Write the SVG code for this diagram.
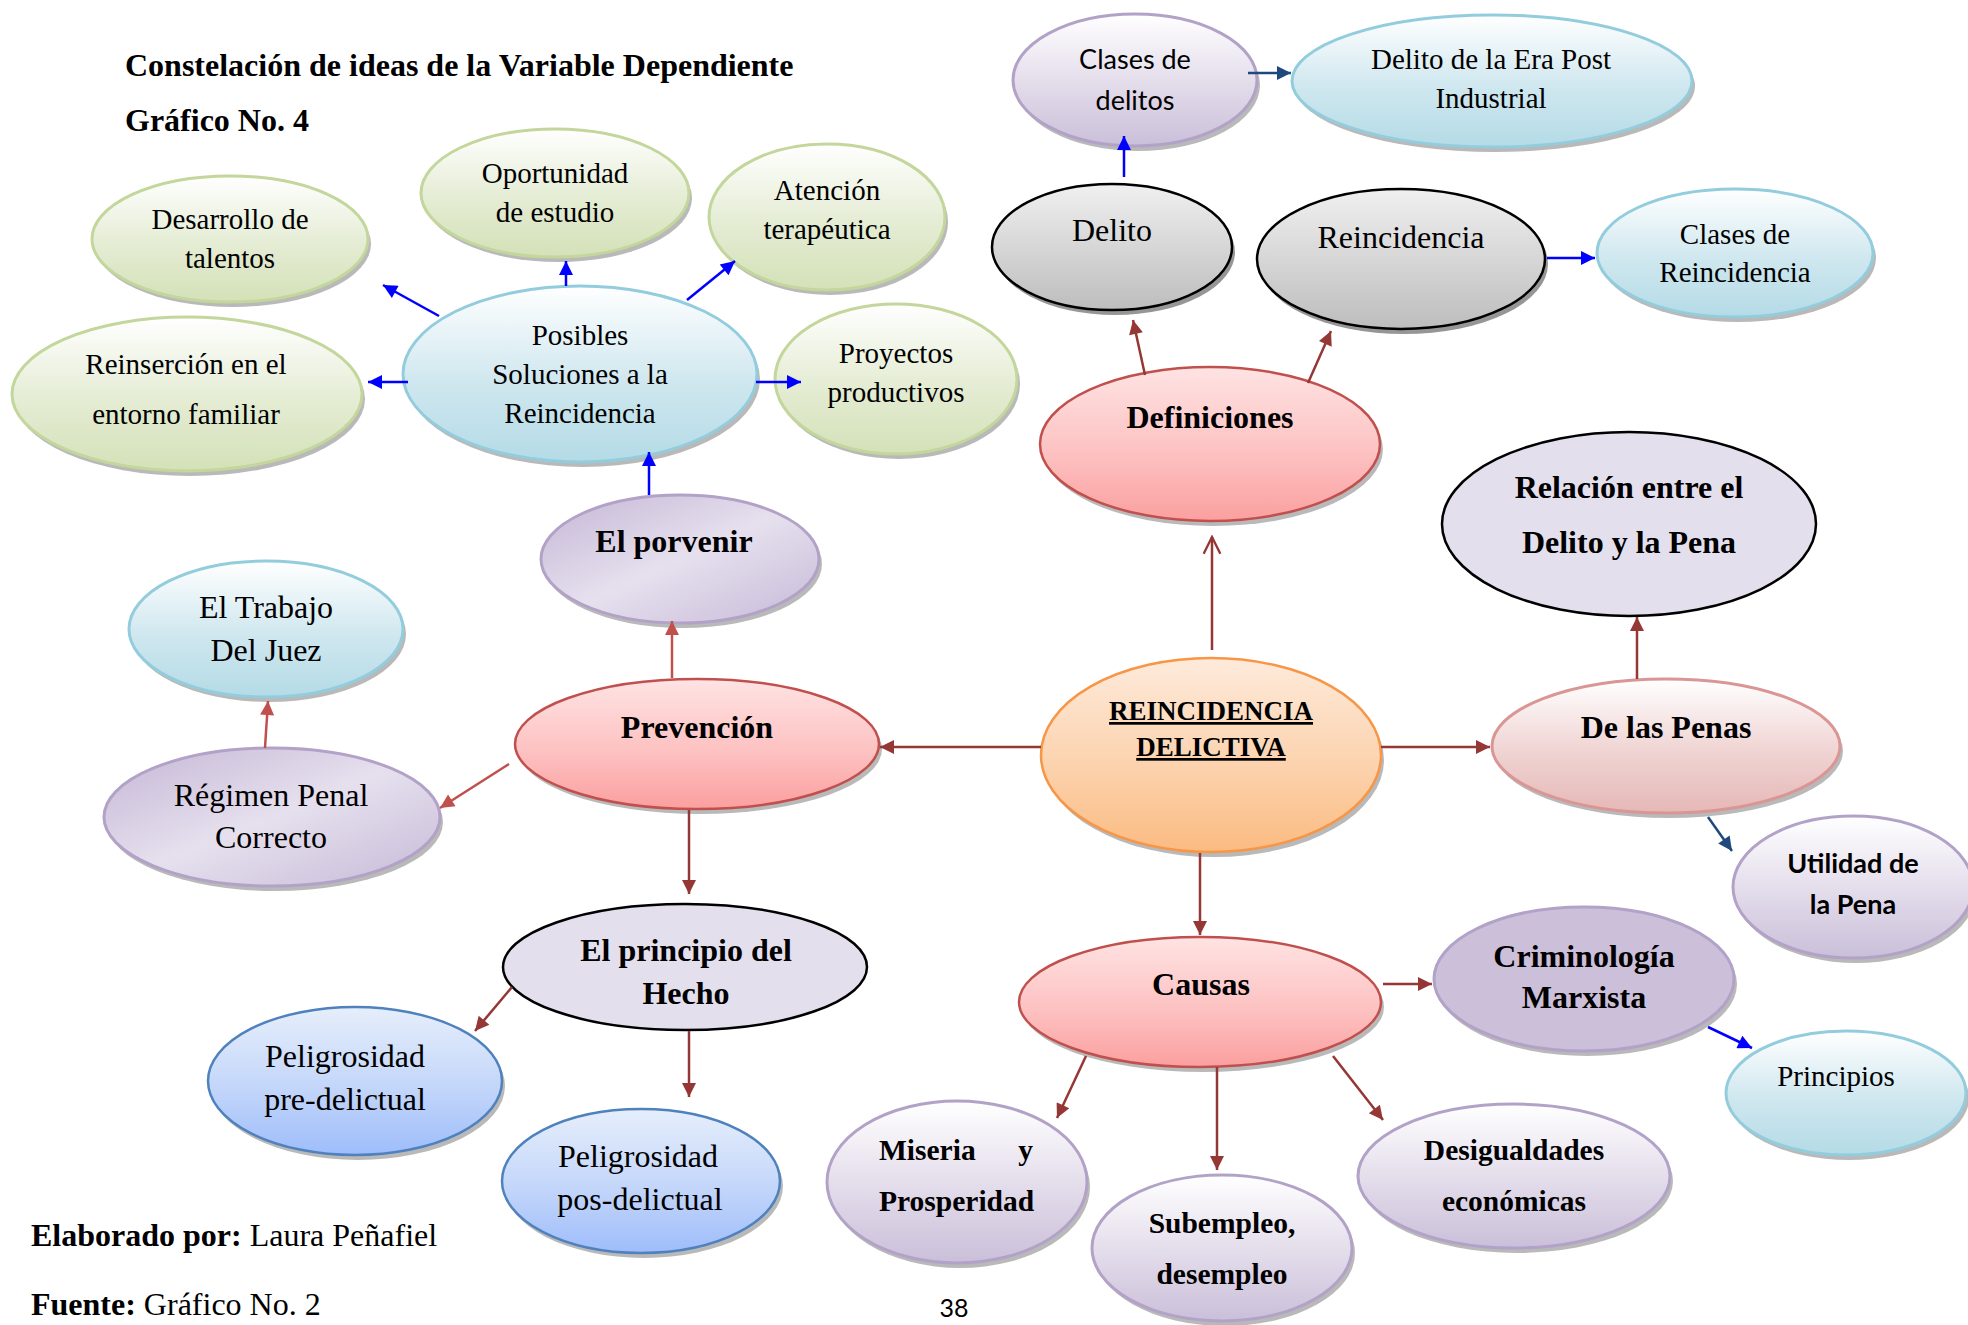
<svg xmlns="http://www.w3.org/2000/svg" width="1968" height="1325" viewBox="0 0 1968 1325">
<defs>
<linearGradient id="gGreen" x1="0" y1="0" x2="0" y2="1"><stop offset="0" stop-color="#ffffff"/><stop offset="0.55" stop-color="#e4ecd3"/><stop offset="1" stop-color="#d4e1b8"/></linearGradient>
<linearGradient id="gBlue" x1="0" y1="0" x2="0" y2="1"><stop offset="0" stop-color="#ffffff"/><stop offset="0.55" stop-color="#cfe7ef"/><stop offset="1" stop-color="#b4dbe6"/></linearGradient>
<linearGradient id="gPurple" x1="0" y1="0" x2="0" y2="1"><stop offset="0" stop-color="#ffffff"/><stop offset="0.55" stop-color="#e2dbea"/><stop offset="1" stop-color="#cabfd9"/></linearGradient>
<linearGradient id="gPurple2" x1="0" y1="0" x2="1" y2="1"><stop offset="0" stop-color="#c4b6d5"/><stop offset="0.5" stop-color="#e6e0ee"/><stop offset="1" stop-color="#c6b9d7"/></linearGradient>
<linearGradient id="gRed" x1="0" y1="0" x2="0" y2="1"><stop offset="0" stop-color="#ffe3e3"/><stop offset="0.55" stop-color="#fdc2c2"/><stop offset="1" stop-color="#fb9f9f"/></linearGradient>
<linearGradient id="gPink" x1="0" y1="0" x2="0" y2="1"><stop offset="0" stop-color="#ffffff"/><stop offset="0.55" stop-color="#efd3d2"/><stop offset="1" stop-color="#e5b8b7"/></linearGradient>
<linearGradient id="gOrange" x1="0" y1="0" x2="0" y2="1"><stop offset="0" stop-color="#feeadb"/><stop offset="0.55" stop-color="#fcd3ae"/><stop offset="1" stop-color="#fbbb82"/></linearGradient>
<linearGradient id="gGray" x1="0" y1="0" x2="0" y2="1"><stop offset="0" stop-color="#f0f0f0"/><stop offset="0.55" stop-color="#d4d4d4"/><stop offset="1" stop-color="#bdbdbd"/></linearGradient>
<linearGradient id="gBlue2" x1="0" y1="0" x2="0" y2="1"><stop offset="0" stop-color="#e6eefb"/><stop offset="0.55" stop-color="#c3d6fa"/><stop offset="1" stop-color="#9ebdfb"/></linearGradient>
<marker id="aBlue" viewBox="0 0 10 10" refX="10" refY="5" markerUnits="userSpaceOnUse" markerWidth="16" markerHeight="14" orient="auto"><path d="M0,0 L10,5 L0,10 z" fill="#0000ff"/></marker>
<marker id="aNavy" viewBox="0 0 10 10" refX="10" refY="5" markerUnits="userSpaceOnUse" markerWidth="16" markerHeight="14" orient="auto"><path d="M0,0 L10,5 L0,10 z" fill="#1f497d"/></marker>
<marker id="aDark" viewBox="0 0 10 10" refX="10" refY="5" markerUnits="userSpaceOnUse" markerWidth="16" markerHeight="14" orient="auto"><path d="M0,0 L10,5 L0,10 z" fill="#953735"/></marker>
<marker id="aRed" viewBox="0 0 10 10" refX="10" refY="5" markerUnits="userSpaceOnUse" markerWidth="16" markerHeight="14" orient="auto"><path d="M0,0 L10,5 L0,10 z" fill="#c0504d"/></marker>
<marker id="aOpen" viewBox="0 0 12 12" refX="11" refY="6" markerUnits="userSpaceOnUse" markerWidth="20" markerHeight="20" orient="auto"><path d="M1,1 L11,6 L1,11" fill="none" stroke="#953735" stroke-width="1.4"/></marker>
</defs>
<style>
.sh{fill:#808080;opacity:.55}
.green{fill:url(#gGreen);stroke:#c3d69b;stroke-width:3}
.blue{fill:url(#gBlue);stroke:#93cddd;stroke-width:3}
.purple{fill:url(#gPurple);stroke:#b3a2c7;stroke-width:3}
.purple2{fill:url(#gPurple2);stroke:#b3a2c7;stroke-width:3}
.purpleS{fill:#cbbfd9;stroke:#b3a2c7;stroke-width:3}
.red{fill:url(#gRed);stroke:#c0504d;stroke-width:2.5}
.pink{fill:url(#gPink);stroke:#d99694;stroke-width:3}
.orange{fill:url(#gOrange);stroke:#f79646;stroke-width:2.5}
.gray{fill:url(#gGray);stroke:#000;stroke-width:2.5}
.lav{fill:#e4dfec;stroke:#000;stroke-width:2.5}
.blue2{fill:url(#gBlue2);stroke:#4f81bd;stroke-width:2.5}
text{fill:#000}
.t{font-family:"Liberation Serif","Times New Roman",serif;font-size:29px;text-anchor:middle}
.tl{font-family:"Liberation Serif","Times New Roman",serif;font-size:32px;text-anchor:middle}
.tb{font-family:"Liberation Serif","Times New Roman",serif;font-size:32px;font-weight:bold;text-anchor:middle}
.tbs{font-family:"Liberation Serif","Times New Roman",serif;font-size:29.5px;font-weight:bold}
.s{font-family:Lato,"Open Sans",sans-serif;font-size:27px;text-anchor:middle}
.sb{font-family:Lato,"Open Sans",sans-serif;font-size:27px;font-weight:bold;text-anchor:middle}
.head{font-family:"Liberation Serif","Times New Roman",serif;font-size:32px;font-weight:bold}
.foot{font-family:"Liberation Serif","Times New Roman",serif;font-size:32px}
.cb{stroke:#0000ff;stroke-width:2.5;fill:none;marker-end:url(#aBlue)}
.cn{stroke:#1f497d;stroke-width:2.5;fill:none;marker-end:url(#aNavy)}
.cd{stroke:#953735;stroke-width:2.5;fill:none;marker-end:url(#aDark)}
.cr{stroke:#c0504d;stroke-width:2.5;fill:none;marker-end:url(#aRed)}
.co{stroke:#953735;stroke-width:2.5;fill:none;marker-end:url(#aOpen)}
</style>
<rect width="1968" height="1325" fill="#ffffff"/>

<g id="title">
<text class="head" x="125" y="76">Constelación de ideas de la Variable Dependiente</text>
<text class="head" x="125" y="131">Gráfico No. 4</text>
</g>

<g id="n-desarrollo"><ellipse class="sh" cx="233" cy="244" rx="138" ry="63"/><ellipse class="green" cx="230" cy="239" rx="138" ry="63"/>
<text class="t" x="230" y="229">Desarrollo de</text><text class="t" x="230" y="268">talentos</text></g>

<g id="n-oportunidad"><ellipse class="sh" cx="558" cy="198" rx="134" ry="64"/><ellipse class="green" cx="555" cy="193" rx="134" ry="64"/>
<text class="t" x="555" y="183">Oportunidad</text><text class="t" x="555" y="222">de estudio</text></g>

<g id="n-atencion"><ellipse class="sh" cx="830" cy="222" rx="118" ry="73"/><ellipse class="green" cx="827" cy="217" rx="118" ry="73"/>
<text class="t" x="827" y="200">Atención</text><text class="t" x="827" y="239">terapéutica</text></g>

<g id="n-reinsercion"><ellipse class="sh" cx="190" cy="399" rx="175" ry="77"/><ellipse class="green" cx="187" cy="394" rx="175" ry="77"/>
<text class="t" x="186" y="374">Reinserción en el</text><text class="t" x="186" y="424">entorno familiar</text></g>

<g id="n-posibles"><ellipse class="sh" cx="583" cy="379" rx="177" ry="88"/><ellipse class="blue" cx="580" cy="374" rx="177" ry="88"/>
<text class="t" x="580" y="345">Posibles</text><text class="t" x="580" y="384">Soluciones a la</text><text class="t" x="580" y="423">Reincidencia</text></g>

<g id="n-proyectos"><ellipse class="sh" cx="899" cy="384" rx="121" ry="75"/><ellipse class="green" cx="896" cy="379" rx="121" ry="75"/>
<text class="t" x="896" y="363">Proyectos</text><text class="t" x="896" y="402">productivos</text></g>

<g id="n-clases-delitos"><ellipse class="sh" cx="1138" cy="85" rx="122" ry="66"/><ellipse class="purple" cx="1135" cy="80" rx="122" ry="66"/>
<text class="s" x="1135" y="69">Clases de</text><text class="s" x="1135" y="110">delitos</text></g>

<g id="n-era-post"><ellipse class="sh" cx="1495" cy="86" rx="200" ry="66"/><ellipse class="blue" cx="1492" cy="81" rx="200" ry="66"/>
<text class="t" x="1491" y="69">Delito de la Era Post</text><text class="t" x="1491" y="108">Industrial</text></g>

<g id="n-delito"><ellipse class="sh" cx="1115" cy="252" rx="120" ry="63" style="fill:#404040"/><ellipse class="gray" cx="1112" cy="247" rx="120" ry="63"/>
<text class="tl" x="1112" y="241">Delito</text></g>

<g id="n-reincidencia"><ellipse class="sh" cx="1404" cy="264" rx="144" ry="70" style="fill:#404040"/><ellipse class="gray" cx="1401" cy="259" rx="144" ry="70"/>
<text class="tl" x="1401" y="248">Reincidencia</text></g>

<g id="n-clases-reincidencia"><ellipse class="sh" cx="1738" cy="258" rx="138" ry="64"/><ellipse class="blue" cx="1735" cy="253" rx="138" ry="64"/>
<text class="t" x="1735" y="244">Clases de</text><text class="t" x="1735" y="282">Reincidencia</text></g>

<g id="n-definiciones"><ellipse class="sh" cx="1213" cy="449" rx="170" ry="77"/><ellipse class="red" cx="1210" cy="444" rx="170" ry="77"/>
<text class="tb" x="1210" y="428">Definiciones</text></g>

<g id="n-relacion"><ellipse class="lav" cx="1629" cy="524" rx="187" ry="92"/>
<text class="tb" x="1629" y="498">Relación entre el</text><text class="tb" x="1629" y="553">Delito y la Pena</text></g>

<g id="n-porvenir"><ellipse class="sh" cx="683" cy="564" rx="139" ry="64"/><ellipse class="purple2" cx="680" cy="559" rx="139" ry="64"/>
<text class="tb" x="674" y="552">El porvenir</text></g>

<g id="n-trabajo"><ellipse class="sh" cx="269" cy="634" rx="137" ry="68"/><ellipse class="blue" cx="266" cy="629" rx="137" ry="68"/>
<text class="tl" x="266" y="618">El Trabajo</text><text class="tl" x="266" y="661">Del Juez</text></g>

<g id="n-prevencion"><ellipse class="sh" cx="700" cy="749" rx="182" ry="65"/><ellipse class="red" cx="697" cy="744" rx="182" ry="65"/>
<text class="tb" x="697" y="738">Prevención</text></g>

<g id="n-reincidencia-delictiva"><ellipse class="sh" cx="1214" cy="760" rx="170" ry="97"/><ellipse class="orange" cx="1211" cy="755" rx="170" ry="97"/>
<text class="tb" x="1211" y="720" style="font-size:27px;text-decoration:underline">REINCIDENCIA</text><text class="tb" x="1211" y="756" style="font-size:27px;text-decoration:underline">DELICTIVA</text></g>

<g id="n-penas"><ellipse class="sh" cx="1669" cy="751" rx="174" ry="67"/><ellipse class="pink" cx="1666" cy="746" rx="174" ry="67"/>
<text class="tb" x="1666" y="738">De las Penas</text></g>

<g id="n-regimen"><ellipse class="sh" cx="275" cy="822" rx="168" ry="69"/><ellipse class="purple2" cx="272" cy="817" rx="168" ry="69"/>
<text class="tl" x="271" y="806">Régimen Penal</text><text class="tl" x="271" y="848">Correcto</text></g>

<g id="n-utilidad"><ellipse class="sh" cx="1856" cy="892" rx="120" ry="71"/><ellipse class="purple" cx="1853" cy="887" rx="120" ry="71"/>
<text class="sb" x="1853" y="873">Utilidad de</text><text class="sb" x="1853" y="914">la Pena</text></g>

<g id="n-principio"><ellipse class="lav" cx="685" cy="967" rx="182" ry="63"/>
<text class="tb" x="686" y="961">El principio del</text><text class="tb" x="686" y="1004">Hecho</text></g>

<g id="n-criminologia"><ellipse class="sh" cx="1587" cy="984" rx="150" ry="72"/><ellipse class="purpleS" cx="1584" cy="979" rx="150" ry="72"/>
<text class="tb" x="1584" y="967">Criminología</text><text class="tb" x="1584" y="1008">Marxista</text></g>

<g id="n-causas"><ellipse class="sh" cx="1203" cy="1007" rx="181" ry="65"/><ellipse class="red" cx="1200" cy="1002" rx="181" ry="65"/>
<text class="tb" x="1201" y="995">Causas</text></g>

<g id="n-peligrosidad-pre"><ellipse class="sh" cx="358" cy="1086" rx="147" ry="74"/><ellipse class="blue2" cx="355" cy="1081" rx="147" ry="74"/>
<text class="tl" x="345" y="1067">Peligrosidad</text><text class="tl" x="345" y="1110">pre-delictual</text></g>

<g id="n-principios"><ellipse class="sh" cx="1849" cy="1098" rx="120" ry="62"/><ellipse class="blue" cx="1846" cy="1093" rx="120" ry="62"/>
<text class="t" x="1836" y="1086">Principios</text></g>

<g id="n-miseria"><ellipse class="sh" cx="960" cy="1187" rx="130" ry="81"/><ellipse class="purple" cx="957" cy="1182" rx="130" ry="81"/>
<text class="tbs" x="879" y="1160">Miseria</text><text class="tbs" x="1033" y="1160" text-anchor="end">y</text><text class="tbs" x="879" y="1211">Prosperidad</text></g>

<g id="n-peligrosidad-pos"><ellipse class="sh" cx="644" cy="1186" rx="139" ry="72"/><ellipse class="blue2" cx="641" cy="1181" rx="139" ry="72"/>
<text class="tl" x="638" y="1167">Peligrosidad</text><text class="tl" x="640" y="1210">pos-delictual</text></g>

<g id="n-desigualdades"><ellipse class="sh" cx="1517" cy="1181" rx="156" ry="72"/><ellipse class="purple" cx="1514" cy="1176" rx="156" ry="72"/>
<text class="tbs" x="1514" y="1160" text-anchor="middle">Desigualdades</text><text class="tbs" x="1514" y="1211" text-anchor="middle">económicas</text></g>

<g id="n-subempleo"><ellipse class="sh" cx="1225" cy="1253" rx="130" ry="73"/><ellipse class="purple" cx="1222" cy="1248" rx="130" ry="73"/>
<text class="tbs" x="1222" y="1233" text-anchor="middle">Subempleo,</text><text class="tbs" x="1222" y="1284" text-anchor="middle">desempleo</text></g>

<g id="footer">
<text class="foot" x="31" y="1246"><tspan font-weight="bold">Elaborado por:</tspan> Laura Peñafiel</text>
<text class="foot" x="31" y="1315"><tspan font-weight="bold">Fuente:</tspan> Gráfico No. 2</text>
<text x="954" y="1317" style="font-family:Lato,'Open Sans',sans-serif;font-size:25px;text-anchor:middle">38</text>
</g>

<g id="connectors">
<line class="cb" x1="439" y1="316" x2="383" y2="285"/>
<line class="cb" x1="566" y1="286" x2="566" y2="261"/>
<line class="cb" x1="687" y1="300" x2="735" y2="261"/>
<line class="cb" x1="408" y1="382" x2="368" y2="382"/>
<line class="cb" x1="756" y1="382" x2="801" y2="382"/>
<line class="cb" x1="649" y1="495" x2="649" y2="452"/>
<line class="cb" x1="1124" y1="177" x2="1124" y2="136"/>
<line class="cb" x1="1547" y1="258" x2="1595" y2="258"/>
<line class="cb" x1="1708" y1="1027" x2="1752" y2="1048"/>
<line class="cn" x1="1248" y1="73" x2="1291" y2="73"/>
<line class="cn" x1="1708" y1="817" x2="1732" y2="851"/>
<line class="cd" x1="1145" y1="375" x2="1133" y2="320"/>
<line class="cd" x1="1308" y1="383" x2="1331" y2="331"/>
<line class="co" x1="1212" y1="650" x2="1212" y2="537"/>
<line class="cd" x1="1041" y1="747" x2="880" y2="747"/>
<line class="cd" x1="1381" y1="747" x2="1490" y2="747"/>
<line class="cd" x1="1637" y1="679" x2="1637" y2="617"/>
<line class="cd" x1="1200" y1="853" x2="1200" y2="935"/>
<line class="cd" x1="1383" y1="984" x2="1432" y2="984"/>
<line class="cd" x1="1086" y1="1056" x2="1057" y2="1118"/>
<line class="cd" x1="1217" y1="1067" x2="1217" y2="1170"/>
<line class="cd" x1="1333" y1="1056" x2="1383" y2="1120"/>
<line class="cd" x1="689" y1="810" x2="689" y2="894"/>
<line class="cd" x1="512" y1="987" x2="475" y2="1031"/>
<line class="cd" x1="689" y1="1031" x2="689" y2="1097"/>
<line class="cr" x1="672" y1="678" x2="672" y2="621"/>
<line class="cr" x1="509" y1="764" x2="440" y2="808"/>
<line class="cr" x1="265" y1="748" x2="268" y2="701"/>
</g>
</svg>
